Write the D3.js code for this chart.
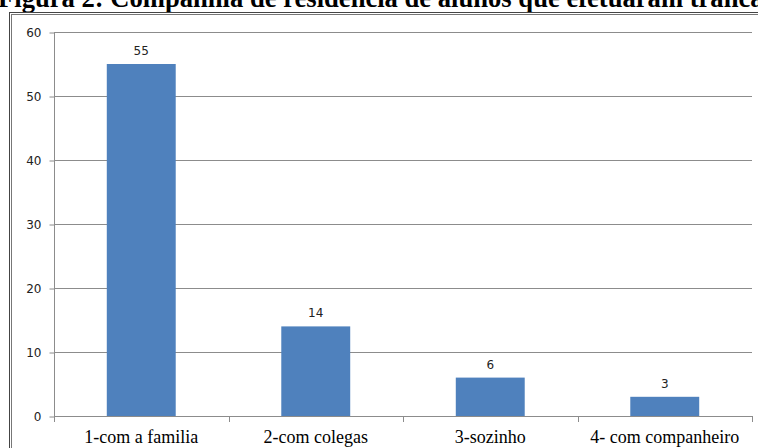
<!DOCTYPE html>
<html>
<head>
<meta charset="utf-8">
<script src="https://d3js.org/d3.v7.min.js"></script>
<style>
body { margin: 0; background: #fff; }
</style>
</head>
<body>
<script>
var width = 758;
var height = 448;

// data
const categories = ["1-com a familia", "2-com colegas", "3-sozinho", "4- com companheiro"];
const values = [55, 14, 6, 3];
const yTicks = [0, 10, 20, 30, 40, 50, 60];
const title = "Figura 2: Companhia de residência de alunos que efetuaram trancamento";

var svg = d3.select("body").append("svg")
    .attr("width", width)
    .attr("height", height);

// title, cut at the top like the scan
svg.append("text")
    .attr("x", -2)
    .attr("y", 7)
    .style("font-family", "'Liberation Serif', 'Times New Roman', serif")
    .style("font-weight", "bold")
    .style("font-size", "26.6px")
    .text(title);

// double frame round the chart
svg.append("rect")
    .attr("x", 9.5).attr("y", 12.5)
    .attr("width", 800).attr("height", 500)
    .attr("fill", "none").attr("stroke", "#444");
svg.append("rect")
    .attr("x", 11.5).attr("y", 14.5)
    .attr("width", 800).attr("height", 500)
    .attr("fill", "none").attr("stroke", "#777");

var mLeft = 54, mRight = 752, mTop = 32, mBottom = 416;

var x = d3.scaleBand()
    .domain(categories)
    .range([mLeft, mRight])
    .padding(0);

var y = d3.scaleLinear()
    .domain([0, 60])
    .range([mBottom, mTop]);

// gridlines
svg.append("g")
    .selectAll("line")
    .data(yTicks.filter(d => d > 0))
    .enter()
    .append("line")
    .attr("x1", mLeft).attr("x2", mRight)
    .attr("y1", d => Math.round(y(d)) + 0.5)
    .attr("y2", d => Math.round(y(d)) + 0.5)
    .attr("stroke", "#8c8c8c");

// y axis
var yAxis = svg.append("g")
    .attr("transform", "translate(" + (mLeft + 0.5) + ",0.5)")
    .call(d3.axisLeft(y).tickValues(yTicks).tickSize(5).tickPadding(8));
yAxis.select(".domain").attr("stroke", "#8c8c8c").attr("d", "M0," + mTop + "V" + mBottom);
yAxis.selectAll(".tick line").attr("stroke", "#8c8c8c");
yAxis.selectAll(".tick text")
    .attr("fill", "#222")
    .style("font-family", "'DejaVu Sans', sans-serif")
    .style("font-size", "12px");

// bars
var barW = x.bandwidth() * 0.395;
svg.append("g")
    .selectAll("rect")
    .data(values)
    .enter()
    .append("rect")
    .attr("x", (d, i) => x(categories[i]) + x.bandwidth() / 2 - barW / 2)
    .attr("y", d => y(d))
    .attr("width", barW)
    .attr("height", d => mBottom - y(d))
    .attr("fill", "#4f81bd");

// value labels
svg.append("g")
    .selectAll("text")
    .data(values)
    .enter()
    .append("text")
    .attr("x", (d, i) => x(categories[i]) + x.bandwidth() / 2)
    .attr("y", d => y(d) - 9)
    .attr("text-anchor", "middle")
    .attr("fill", "#222")
    .style("font-family", "'DejaVu Sans', sans-serif")
    .style("font-size", "12px")
    .text(d => d);

// x axis
var xAxis = svg.append("g")
    .attr("transform", "translate(0," + (mBottom + 0.5) + ")")
    .call(d3.axisBottom(x).tickSize(0).tickPadding(14));
xAxis.select(".domain").attr("stroke", "#8c8c8c").attr("d", "M" + mLeft + ",0H" + mRight);
xAxis.selectAll(".tick text")
    .attr("fill", "#000")
    .style("font-family", "'Liberation Serif', 'Times New Roman', serif")
    .style("font-size", "18px");

// category separators
svg.append("g")
    .selectAll("line")
    .data(categories.map(c => x(c)).concat([mRight]))
    .enter()
    .append("line")
    .attr("x1", d => Math.round(d) + 0.5).attr("x2", d => Math.round(d) + 0.5)
    .attr("y1", mBottom).attr("y2", mBottom + 6)
    .attr("stroke", "#8c8c8c");
</script>
</body>
</html>
